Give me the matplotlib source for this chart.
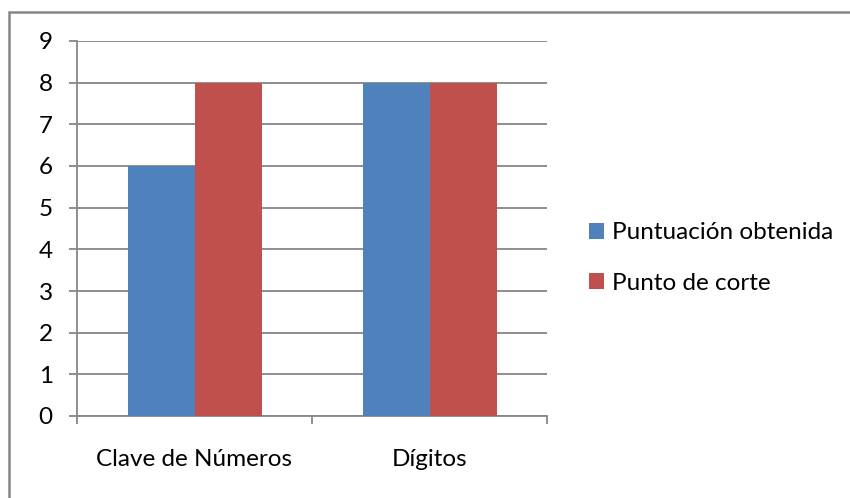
import matplotlib
matplotlib.use("Agg")
import matplotlib.pyplot as plt
from matplotlib.patches import Rectangle

categories = ["Clave de Números", "Dígitos"]
series_names = ["Puntuación obtenida", "Punto de corte"]
puntuacion = [6, 8]
corte = [8, 8]
yticks = list(range(0, 10))

blue = "#4F81BD"
red = "#C0504D"
gray = "#868686"
fs = 17.5

plt.rcParams["font.family"] = ["Lato", "DejaVu Sans"]

fig = plt.figure(figsize=(8.5, 4.98), dpi=100)
ax = fig.add_axes([77 / 850, 1 - 416 / 498, 470 / 850, 375 / 498])

w = 67 / 235
x = list(range(len(categories)))
ax.bar([i - w for i in x], puntuacion, width=w, align="edge", color=blue,
       label=series_names[0], zorder=3)
ax.bar(x, corte, width=w, align="edge", color=red,
       label=series_names[1], zorder=3)

ax.set_xlim(-0.5, len(categories) - 0.5)
ax.set_ylim(0, 9)
ax.set_yticks(yticks)
ax.set_yticklabels([str(t) for t in yticks], fontsize=fs)
ax.set_xticks(x)
ax.set_xticklabels(categories, fontsize=fs)
ax.set_xticks([-0.5, 0.5, 1.5], minor=True)

ax.yaxis.grid(True, color=gray, linewidth=1.3, zorder=0)
ax.tick_params(axis="y", length=5.5, width=1.3, color=gray, pad=12)
ax.tick_params(axis="x", which="major", length=0, pad=24)
ax.tick_params(axis="x", which="minor", length=5.5, width=1.3, color=gray)

for side in ["top", "right"]:
    ax.spines[side].set_visible(False)
for side in ["left", "bottom"]:
    ax.spines[side].set_color(gray)
    ax.spines[side].set_linewidth(1.3)

leg = fig.legend(loc="center left", bbox_to_anchor=(589 / 850, 1 - 258 / 498),
                 frameon=False, fontsize=fs, handlelength=0.6,
                 handleheight=0.6, handletextpad=0.35, labelspacing=1.2,
                 borderpad=0, borderaxespad=0)

# outer chart frame
fig.patches.append(Rectangle((9 / 850, -0.1), 1.2, 1 - 12 / 498 + 0.1,
                             transform=fig.transFigure, fill=False,
                             edgecolor=gray, linewidth=1.8))

fig.savefig("out.png", dpi=100)
